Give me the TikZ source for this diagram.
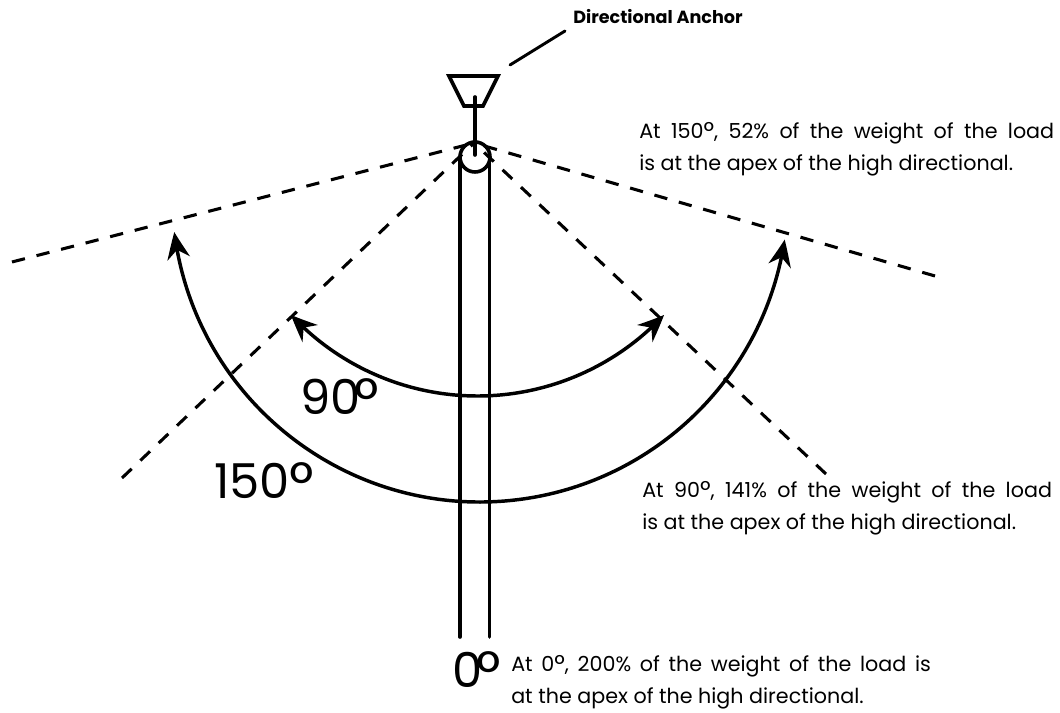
\documentclass[tikz,border=0pt]{standalone}
\usepackage{graphicx}
\usepackage{fontspec}
\setmainfont{Poppins}
\usetikzlibrary{arrows.meta,bending}
\newcommand{\dg}{\raisebox{-0.12em}{\scalebox{1.25}{°}}}
\newcommand{\wide}{\spaceskip=0.5em\relax}
\newcommand{\widesm}{\spaceskip=0.42em\relax}
\begin{document}
\begin{tikzpicture}[x=0.75pt,y=0.75pt,
  heavy/.style={line width=2.7pt,line cap=round,line join=miter,black},
  dashline/.style={line width=2.3pt,black,dash pattern=on 10pt off 9pt},
  sweep/.style={line width=2.6pt,black,{Stealth[length=20pt,width=17pt,bend]}-{Stealth[length=20pt,width=17pt,bend]}},
  note/.style={anchor=west,inner sep=0pt,font=\fontsize{15.5pt}{24pt}\selectfont,align=left},
  big/.style={anchor=base west,inner sep=0pt,font=\fontsize{36pt}{40pt}\selectfont},
]
\useasboundingbox (0,0) rectangle (1060,713);
\fill[white] (0,0) rectangle (1060,713);
\coordinate (tl) at (449,637);
\coordinate (tr) at (498,637);
\coordinate (br) at (483,607);
\coordinate (bl) at (464,607);
\coordinate (stemtop) at (475,616);
\coordinate (apex) at (475,558);
\coordinate (ringc) at (475,556);
\coordinate (leadA) at (510,648);
\coordinate (leadB) at (565,682);
\coordinate (ropeLtop) at (460,556);
\coordinate (ropeRtop) at (489.5,556);
\coordinate (ropeLbot) at (460,76);
\coordinate (ropeRbot) at (489.5,76);
\coordinate (d150L) at (12,451);
\coordinate (d150R) at (935,437);
\coordinate (d90L) at (122,235);
\coordinate (d90R) at (826,239);
\coordinate (pk) at (474,570);
\draw[dashline] (d150L) -- (pk);
\draw[dashline] (d150R) -- (pk);
\draw[dashline] (d90L) -- (pk);
\draw[dashline] (d90R) -- (pk);
\draw[heavy] (ropeLbot) -- (ropeLtop);
\draw[heavy] (ropeRbot) -- (ropeRtop);
\draw[heavy] (ringc) circle (15);
\draw[heavy] (tl) -- (tr) -- (br) -- (bl) -- cycle;
\draw[heavy] (stemtop) -- (apex);
\draw[heavy,line width=2.2pt] (leadA) -- (leadB);
\coordinate (c150) at (480,519);
\coordinate (c90) at (477.5,572);
\draw[sweep] ([shift={(187.1:308)}]c150) arc[start angle=187.1,end angle=351.5,radius=308*0.75pt];
\draw[sweep] ([shift={(223:255)}]c90) arc[start angle=223,end angle=317,radius=255*0.75pt];
\node[anchor=base west,inner sep=0pt,font=\fontsize{13.2pt}{16pt}\selectfont\bfseries] (lab) at (573,689) {Directional Anchor};
\node[note] (n150) at (639,564) {{\wide At 150\dg, 52\% of the weight of the load}\\is at the apex of the high directional.};
\node[note] (n90) at (642,205) {{\wide At 90\dg, 141\% of the weight of the load}\\is at the apex of the high directional.};
\node[note] (n0) at (511,31) {{\widesm At 0\dg, 200\% of the weight of the load is}\\at the apex of the high directional.};
\node[big] (b90) at (300,298) {90\kern-0.12em\dg};
\node[big] (b150) at (214,214) {150\dg};
\node[big] (b0) at (452,25) {0\kern-0.12em\dg};
\end{tikzpicture}
\end{document}
